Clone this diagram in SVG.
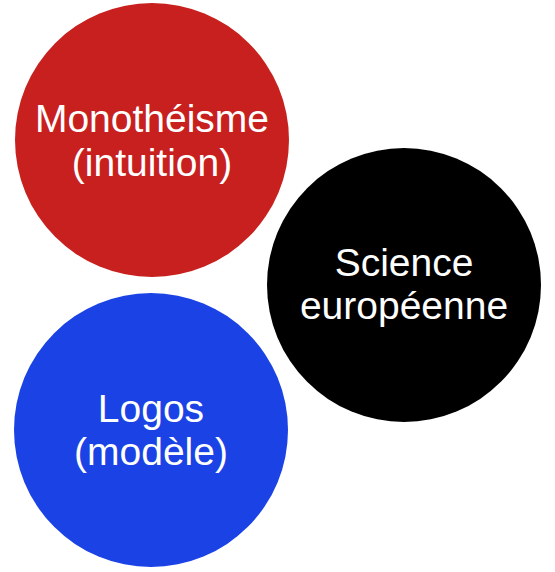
<svg xmlns="http://www.w3.org/2000/svg" width="555" height="572" viewBox="0 0 555 572">
<style>
.lbl{font-family:"Liberation Sans",Arial,sans-serif;font-size:39px;fill:#fff;text-anchor:middle}
</style>
<rect width="555" height="572" fill="#fff"/>
<g id="connectors"></g>
<g id="monotheisme">
<circle cx="152" cy="140" r="137" fill="#c8201f"/>
<text class="lbl" x="152" y="132">Monothéisme</text>
<text class="lbl" x="152" y="176">(intuition)</text>
</g>
<g id="science">
<circle cx="404" cy="285" r="137" fill="#000"/>
<text class="lbl" x="404" y="276">Science</text>
<text class="lbl" x="404" y="319">européenne</text>
</g>
<g id="logos">
<circle cx="151" cy="430" r="137" fill="#1a42e4"/>
<text class="lbl" x="151" y="422">Logos</text>
<text class="lbl" x="151" y="465">(modèle)</text>
</g>
</svg>
